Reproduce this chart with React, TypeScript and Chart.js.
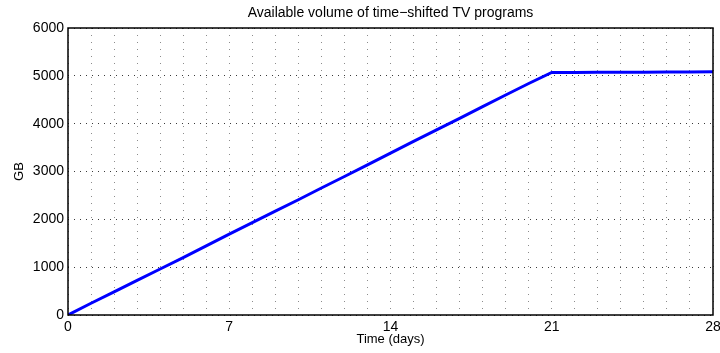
import React, { useEffect, useRef } from "react";
import { Chart, registerables } from "chart.js";

Chart.register(...registerables);

const titleText = "Available volume of time\u2212shifted TV programs";
const xTitle = "Time (days)";
const yTitle = "GB";
const days = [0, 1, 2, 3, 4, 5, 6, 7, 8, 9, 10, 11, 12, 13, 14, 15, 16, 17, 18, 19, 20, 21, 22, 23, 24, 25, 26, 27, 28];
const volumeGB = [0, 245, 485, 725, 962, 1200, 1445, 1690, 1930, 2170, 2410, 2655, 2895, 3140, 3385, 3630, 3870, 4110, 4355, 4600, 4840, 5070, 5072, 5073, 5075, 5076, 5078, 5080, 5085];
const xLabelDays = [0, 7, 14, 21, 28];
const yTicks = [0, 1000, 2000, 3000, 4000, 5000, 6000];

const FONT = "'Liberation Sans', Arial, Helvetica, sans-serif";

const decorPlugin = {
  id: "decor",
  afterDraw(chart: any) {
    const { ctx, chartArea } = chart;
    const { left, right, top, bottom } = chartArea;
    ctx.save();
    ctx.strokeStyle = "#000";
    ctx.lineWidth = 1.5;
    ctx.strokeRect(left, top, right - left, bottom - top);
    ctx.fillStyle = "#000";
    ctx.textAlign = "center";
    ctx.textBaseline = "alphabetic";
    ctx.font = `14px ${FONT}`;
    ctx.fillText(titleText, (left + right) / 2, 17);
    ctx.font = `13px ${FONT}`;
    ctx.fillText(xTitle, (left + right) / 2, 343);
    ctx.translate(23, (top + bottom) / 2);
    ctx.rotate(-Math.PI / 2);
    ctx.fillText(yTitle, 0, 0);
    ctx.restore();
  },
};

export default function App() {
  const ref = useRef<HTMLCanvasElement | null>(null);
  useEffect(() => {
    if (!ref.current) return;
    const chart = new Chart(ref.current, {
      type: "line",
      data: {
        datasets: [
          {
            data: days.map((d, i) => ({ x: d, y: volumeGB[i] })),
            borderColor: "#0000ff",
            borderWidth: 3,
            pointRadius: 0,
            tension: 0,
            fill: false,
          },
        ],
      },
      options: {
        animation: false,
        responsive: false,
        layout: { padding: { top: 28, right: 7, left: 0, bottom: 0 } },
        plugins: { legend: { display: false }, tooltip: { enabled: false }, title: { display: false } },
        scales: {
          x: {
            type: "linear",
            min: 0,
            max: 28,
            afterBuildTicks: (scale: any) => {
              scale.ticks = days.map((d) => ({ value: d }));
            },
            ticks: {
              autoSkip: false,
              maxRotation: 0,
              padding: 4,
              color: "#000",
              font: { family: FONT, size: 14 },
              callback: (v: any) => (xLabelDays.includes(Number(v)) ? String(v) : ""),
            },
            grid: { color: "#8c8c8c", lineWidth: 1, drawTicks: false },
            border: { display: false, dash: [1, 6] },
            afterFit: (scale: any) => {
              scale.height = 38;
              scale.paddingLeft = 0;
              scale.paddingRight = 0;
            },
          },
          y: {
            type: "linear",
            min: 0,
            max: 6000,
            afterBuildTicks: (scale: any) => {
              scale.ticks = yTicks.map((v) => ({ value: v }));
            },
            ticks: {
              padding: 4,
              color: "#000",
              font: { family: FONT, size: 14 },
              callback: (v: any) => String(v),
            },
            grid: { color: "#3a3a3a", lineWidth: 1, drawTicks: false },
            border: { display: false, dash: [1, 5] },
            afterFit: (scale: any) => {
              scale.width = 68;
              scale.paddingTop = 0;
              scale.paddingBottom = 0;
            },
          },
        },
      },
      plugins: [decorPlugin],
    } as any);
    return () => chart.destroy();
  }, []);
  return (
    <div style={{ position: "fixed", left: 0, top: 0, width: 720, height: 353, background: "#fff" }}>
      <canvas ref={ref} width={720} height={353} style={{ width: 720, height: 353, display: "block" }} />
    </div>
  );
}
